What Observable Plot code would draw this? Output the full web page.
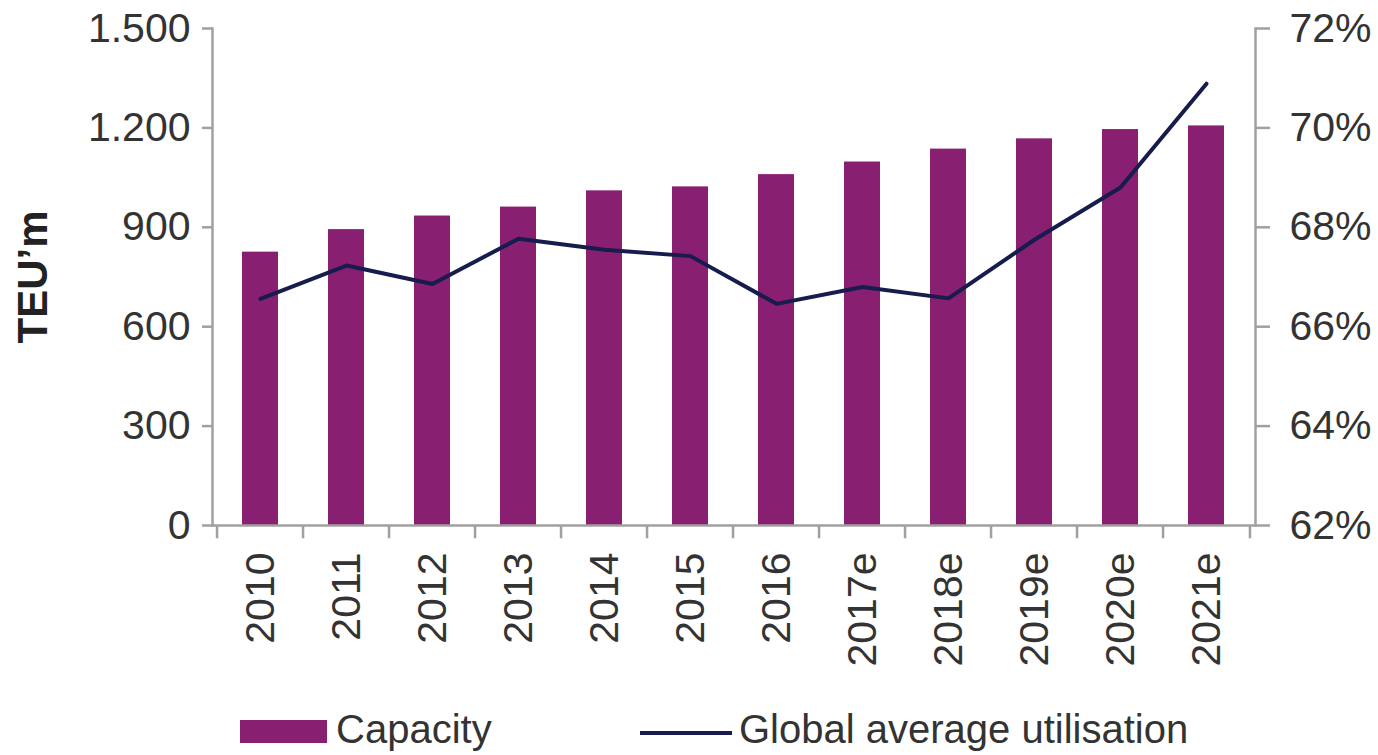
<!DOCTYPE html>
<html>
<head>
<meta charset="utf-8">
<script src="https://cdn.jsdelivr.net/npm/d3@7"></script>
<script src="https://cdn.jsdelivr.net/npm/@observablehq/plot@0.6"></script>
<style>
  html, body { margin: 0; padding: 0; background: #fff; }
  #wrap { position: relative; width: 1378px; height: 755px; font-family: "Liberation Sans", Arial, sans-serif; }
  #legend { position: absolute; left: 0; top: 700px; width: 1378px; height: 55px; }
  .sw { position: absolute; }
  .lt { position: absolute; font-size: 40px; color: #333; line-height: 40px; white-space: nowrap; }
</style>
</head>
<body>
<div id="wrap">
  <div id="chart"></div>
  <div id="legend"></div>
</div>
<script>
const years = ["2010","2011","2012","2013","2014","2015","2016","2017e","2018e","2019e","2020e","2021e"];
const capacity = [825, 893, 934, 961, 1010, 1022, 1059, 1097, 1136, 1167, 1195, 1206];
const utilisation = [66.56, 67.23, 66.86, 67.77, 67.55, 67.42, 66.46, 66.80, 66.57, 67.75, 68.80, 70.89];
const leftTicks = [0, 300, 600, 900, 1200, 1500];
const rightTicks = [62, 64, 66, 68, 70, 72];
const seriesNames = ["Capacity", "Global average utilisation"];
const yTitle = "TEU\u2019m";

const barColor = "#881f70";
const lineColor = "#161c4e";
const axisColor = "#a0a0a0";
const textColor = "#333";
const font = "'Liberation Sans', Arial, sans-serif";

const W = 1378, H = 700, ML = 212, MR = 123, MT = 28, MB = 175;
const step = (W - ML - MR) / years.length;

// map right-axis percent onto left-axis units
const toLeft = p => (p - 62) / 10 * 1500;
const fromLeft = v => 62 + v / 150;

const bars = years.map((y, i) => ({year: y, value: capacity[i]}));
const pts = years.map((y, i) => ({year: y, v: toLeft(utilisation[i])}));

const euro = d3.formatLocale({decimal: ",", thousands: ".", grouping: [3], currency: ["", ""]}).format(",");

const chart = Plot.plot({
  width: W, height: H,
  marginLeft: ML, marginRight: MR, marginTop: MT, marginBottom: MB,
  style: {fontFamily: font, color: textColor, background: "#fff", overflow: "visible"},
  x: {domain: years, paddingInner: 0.58, paddingOuter: 0.29},
  y: {domain: [0, 1500]},
  marks: [
    Plot.barY(bars, {x: "year", y: "value", fill: barColor}),
    Plot.line(pts, {x: "year", y: "v", stroke: lineColor, strokeWidth: 4, strokeLinejoin: "round"}),
    Plot.frame({anchor: "left", stroke: axisColor, strokeWidth: 2.5}),
    Plot.frame({anchor: "right", stroke: axisColor, strokeWidth: 2.5}),
    Plot.frame({anchor: "bottom", stroke: axisColor, strokeWidth: 2.5}),
    // x ticks at category boundaries
    Plot.ruleX(years, {x: d => d, y1: 0, y2: -40, dx: -step / 2, stroke: axisColor, strokeWidth: 2.5}),
    Plot.ruleX(years.slice(-1), {x: d => d, y1: 0, y2: -40, dx: step / 2, stroke: axisColor, strokeWidth: 2.5}),
    Plot.axisY({ticks: leftTicks, tickFormat: euro, tickSize: 10, tickPadding: 12, fontSize: 41, stroke: axisColor, strokeWidth: 2.5, label: null}),
    Plot.axisY({anchor: "right", ticks: rightTicks.map(toLeft), tickFormat: v => Math.round(fromLeft(v)) + "%", tickSize: 14, tickPadding: 20, fontSize: 41, stroke: axisColor, strokeWidth: 2.5, label: null}),
    Plot.axisX({tickRotate: -90, tickSize: 0, tickPadding: 27, fontSize: 41, label: null}),
    Plot.text([yTitle], {text: d => d, frameAnchor: "left", textAnchor: "middle", dx: -179, rotate: -90, fontSize: 42, fontWeight: "bold", fill: "#222"})
  ]
});
document.getElementById("chart").appendChild(chart);

// legend
const lg = document.getElementById("legend");
lg.innerHTML = `
  <div class="sw" style="left:240px; top:20px; width:87px; height:23px; background:${barColor}"></div>
  <div class="lt" style="left:336px; top:9px;">${seriesNames[0]}</div>
  <div class="sw" style="left:640px; top:31px; width:92px; height:4px; background:${lineColor}"></div>
  <div class="lt" style="left:739px; top:9px;">${seriesNames[1]}</div>
`;
</script>
</body>
</html>
